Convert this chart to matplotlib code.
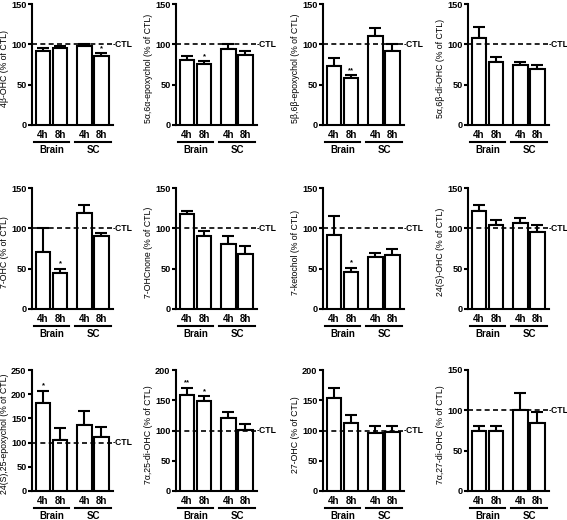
import matplotlib.pyplot as plt
import numpy as np

plt.rcParams['font.family'] = ['Liberation Sans', 'DejaVu Sans']
plt.rcParams['font.weight'] = 'bold'

conditions = ["4h", "8h", "4h", "8h"]
groups = ["Brain", "SC"]

ylabels = [
    "4β-OHC (% of CTL)", "5α,6α-epoxychol (% of CTL)",
    "5β,6β-epoxychol (% of CTL)", "5α,6β-di-OHC (% of CTL)",
    "7-OHC (% of CTL)", "7-OHCnone (% of CTL)",
    "7-ketochol (% of CTL)", "24(S)-OHC (% of CTL)",
    "24(S),25-epoxychol (% of CTL)", "7α,25-di-OHC (% of CTL)",
    "27-OHC (% of CTL)", "7α,27-di-OHC (% of CTL)",
]
means = [
    [92, 95, 98, 85], [80, 76, 94, 87], [73, 58, 110, 92], [108, 78, 74, 69],
    [71, 45, 119, 90], [118, 91, 81, 68], [92, 46, 64, 67], [121, 104, 106, 95],
    [182, 106, 137, 111], [159, 148, 120, 101], [154, 113, 96, 98], [75, 75, 101, 84],
]
sems = [
    [3, 3, 3, 4], [5, 3, 6, 5], [10, 4, 10, 8], [14, 6, 4, 5],
    [30, 5, 10, 4], [4, 6, 9, 10], [23, 5, 5, 7], [8, 6, 7, 9],
    [25, 24, 29, 22], [12, 9, 11, 9], [16, 12, 11, 9], [5, 5, 20, 14],
]
stars = [
    ["", "", "", "*"], ["", "*", "", ""], ["", "**", "", ""], ["", "", "", ""],
    ["", "*", "", ""], ["", "", "", ""], ["", "*", "", ""], ["", "", "", ""],
    ["*", "", "", ""], ["**", "*", "", ""], ["", "", "", ""], ["", "", "", ""],
]
ymax = [150, 150, 150, 150, 150, 150, 150, 150, 250, 200, 200, 150]

x_pos = np.array([0, 1, 2.44, 3.44])
W, H = 567, 520
lefts = [32, 176, 323, 468]
bottoms = [125, 309, 491]
ax_w, ax_h = 81, 121

fig = plt.figure(figsize=(W / 100, H / 100), dpi=100)

for i in range(12):
    r, c = divmod(i, 4)
    ax = fig.add_axes([lefts[c] / W, 1 - bottoms[r] / H, ax_w / W, ax_h / H])
    m = np.array(means[i])
    e = np.array(sems[i])
    ax.bar(x_pos, m, width=0.84, color="white", edgecolor="black", linewidth=1.5, zorder=3)
    ax.errorbar(x_pos, m, yerr=[np.zeros(4), e], fmt="none", ecolor="black",
                elinewidth=1.5, capsize=4, capthick=1.5, zorder=2)
    ax.axhline(100, color="black", linestyle=(0, (3, 2)), linewidth=1.2, zorder=4, clip_on=False)
    ax.text(0.99, 100, "-CTL", transform=ax.get_yaxis_transform(), fontsize=6.2,
            va="center", ha="left")
    for x, v, s, st in zip(x_pos, m, e, stars[i]):
        if st:
            ax.text(x, v + s + ymax[i] * 0.01, st, ha="center", va="bottom", fontsize=5.5)

    ax.set_xlim(-0.65, 4.12)
    ax.set_ylim(0, ymax[i])
    ax.set_yticks(np.arange(0, ymax[i] + 1, 50))
    ax.set_xticks(x_pos)
    ax.set_xticklabels(conditions)
    ax.tick_params(axis="x", length=0, pad=3.5, labelsize=7)
    ax.tick_params(axis="y", length=3, width=1.5, pad=1, labelsize=6.6)
    for sp in ["top", "right"]:
        ax.spines[sp].set_visible(False)
    for sp in ["left", "bottom"]:
        ax.spines[sp].set_linewidth(1.5)
    ax.set_ylabel(ylabels[i], fontsize=6.3)
    ax.yaxis.set_label_coords(-0.29, 0.47)

    trans = ax.get_xaxis_transform()
    for g, center in zip(groups, [0.5, 2.94]):
        ax.plot([center - 1.05, center + 1.05], [-0.14, -0.14], color="black",
                linewidth=1.5, transform=trans, clip_on=False)
        ax.text(center, -0.205, g, transform=trans, ha="center", va="center", fontsize=7)

fig.savefig("out.png", dpi=100)
